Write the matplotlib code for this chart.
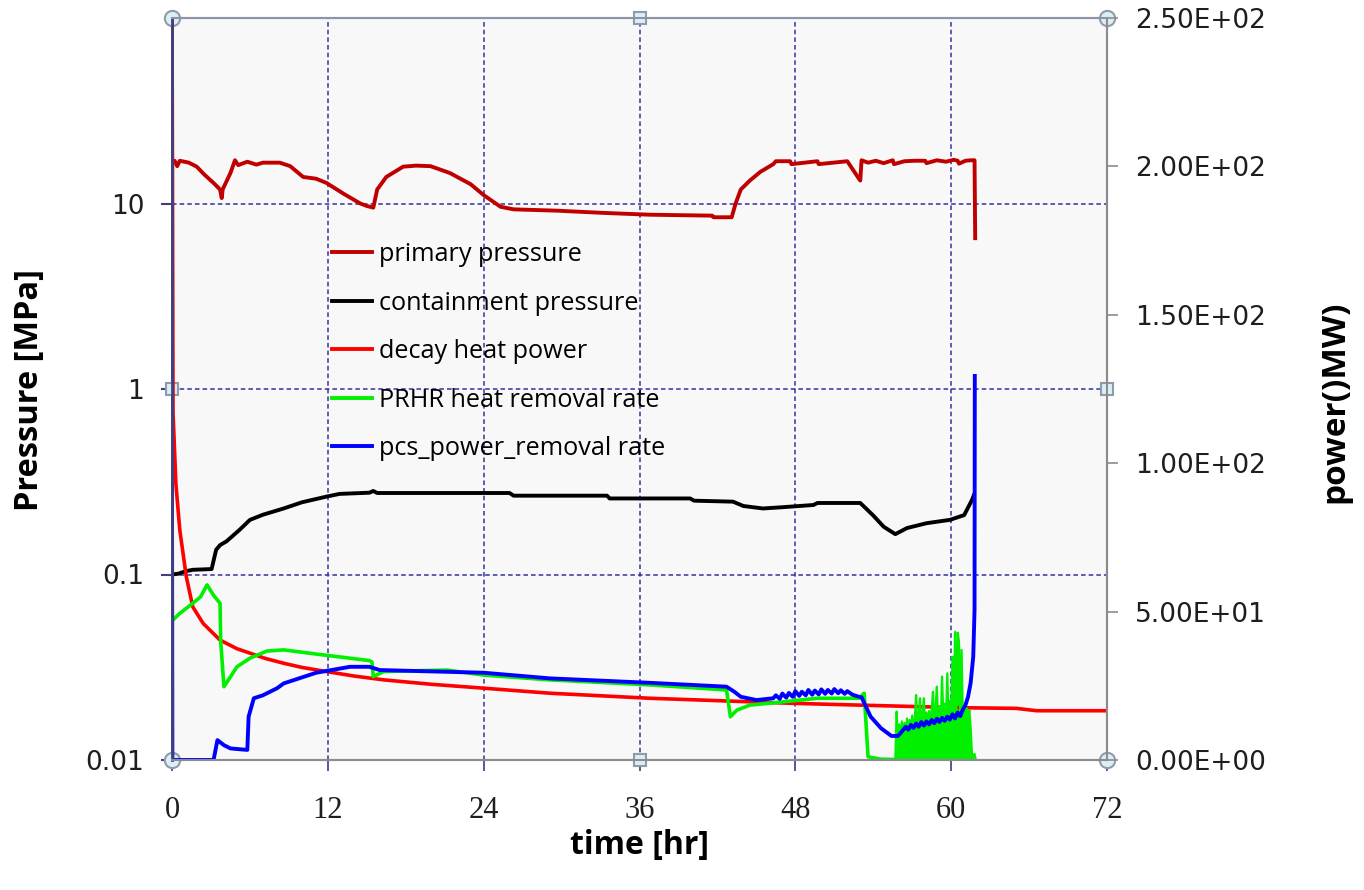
import matplotlib
matplotlib.use("Agg")
import matplotlib.pyplot as plt
from matplotlib.lines import Line2D
from matplotlib.ticker import NullLocator

# ---- data ----
# primary pressure [MPa] (left, log axis)
primary_t = [0, 0.2, 0.4, 0.6, 1.3, 1.9, 2.5, 3.2, 3.7, 3.83, 3.9, 4.5, 4.85, 5.1, 5.8,
             6.5, 7.0, 8.3, 9.1, 10.1, 11.1, 11.9, 13.2, 14.5, 15.0, 15.5, 15.8, 16.5,
             17.8, 18.8, 19.9, 21.4, 23.0, 24.0, 25.3, 26.3, 29.6, 33.2, 36.8, 41.6,
             41.7, 43.1, 43.4, 43.8, 44.5, 45.3, 46.3, 46.5, 47.6, 47.7, 49.7, 49.8,
             52.0, 52.9, 53.0, 53.1, 53.6, 54.2, 54.8, 55.5, 55.6, 56.4, 57.2, 58.0,
             58.1, 58.9, 59.6, 60.2, 60.5, 60.6, 61.1, 61.5, 61.8, 61.85]
primary_p = [16.5, 17.0, 15.9, 17.0, 16.6, 15.8, 14.3, 12.9, 11.9, 10.7, 11.9, 14.6, 17.1,
             16.1, 16.8, 16.2, 16.6, 16.6, 15.9, 13.9, 13.6, 12.9, 11.3, 10.0, 9.7, 9.5,
             11.9, 13.9, 15.8, 16.0, 15.9, 14.6, 12.7, 11.1, 9.6, 9.3, 9.15, 8.9, 8.7,
             8.6, 8.43, 8.43, 10.0, 11.9, 13.3, 14.8, 16.3, 16.9, 16.9, 16.3, 16.9,
             16.3, 16.9, 13.6, 13.3, 17.1, 16.6, 17.0, 16.5, 17.1, 16.3, 16.9, 17.0,
             17.0, 16.5, 17.1, 16.8, 17.2, 17.0, 16.4, 17.0, 17.1, 17.1, 6.5]

# containment pressure [MPa] (left, log axis)
contain_t = [0, 0.5, 1.0, 1.6, 3.05, 3.4, 3.7, 4.2, 5.2, 6.0, 7.0, 8.6, 10.0, 11.9, 12.9,
             15.2, 15.5, 15.8, 26.0, 26.3, 33.5, 33.7, 36.8, 39.9, 40.2, 43.2, 44.0,
             45.5, 46.8, 49.4, 49.7, 53.0, 54.0, 54.8, 55.7, 56.6, 58.1, 59.9, 61.0,
             61.6, 61.75]
contain_p = [0.100, 0.101, 0.104, 0.106, 0.107, 0.136, 0.144, 0.151, 0.174, 0.197, 0.210,
             0.227, 0.245, 0.263, 0.272, 0.276, 0.282, 0.275, 0.275, 0.266, 0.266, 0.257,
             0.257, 0.257, 0.250, 0.247, 0.234, 0.227, 0.230, 0.237, 0.243, 0.243, 0.208,
             0.181, 0.165, 0.178, 0.189, 0.197, 0.209, 0.252, 0.268]

# decay heat power [MW] (right axis)
decay_t = [0, 0.08, 0.3, 0.6, 1.1, 1.6, 2.4, 3.7, 5.0, 6.0, 7.2, 8.6, 10.0, 11.9, 14.0,
           16.3, 20.0, 24.0, 29.1, 36.8, 42.0, 47.8, 52.0, 57.3, 61.0, 65.0, 66.6, 72.0]
decay_w = [260, 117, 93, 77.5, 61.8, 51.6, 46.0, 40.4, 37.5, 36.0, 34.2, 32.6, 31.2, 29.8,
           28.3, 27.0, 25.5, 24.2, 22.5, 20.8, 20.0, 19.1, 18.6, 18.0, 17.6, 17.4, 16.6,
           16.6]

# PRHR heat removal rate [MW] (right axis)
prhr_t = [0, 0.02, 0.6, 1.6, 2.2, 2.7, 3.2, 3.7, 3.75, 4.0, 4.5, 5.0, 6.0, 7.3, 8.6, 11.1,
          13.7, 15.2, 15.4, 15.5, 16.3, 18.0, 21.2, 24.0, 29.1, 36.8, 42.7, 43.0, 43.5,
          44.5, 47.1, 49.7, 52.9, 53.3, 53.6, 54.5, 55.5, 55.7]
prhr_w = [0, 47.0, 49.4, 52.8, 55.0, 59.0, 55.5, 52.8, 40.0, 24.7, 28.0, 31.4, 34.3, 36.7,
          37.1, 35.7, 34.3, 33.5, 33.0, 28.1, 29.8, 30.0, 30.3, 28.6, 27.0, 25.3, 23.6,
          14.6, 16.8, 18.5, 19.6, 20.8, 20.8, 22.5, 1.1, 0.3, 0.2, 0.2]
# oscillating tail of the PRHR rate near the end of the transient
prhr_tail_t = [55.7, 55.8, 55.9, 56.0, 56.1, 56.2, 56.3, 56.4, 56.5, 56.6, 56.7, 56.8, 56.9,
               57.0, 57.1, 57.2, 57.3, 57.4, 57.5, 57.6, 57.7, 57.8, 57.9, 58.0, 58.1,
               58.2, 58.3, 58.4, 58.5, 58.6, 58.7, 58.8, 58.9, 59.0, 59.1, 59.2, 59.3,
               59.4, 59.5, 59.6, 59.7, 59.8, 59.9, 60.0, 60.1, 60.2, 60.3, 60.4, 60.5,
               60.6, 60.7, 60.8, 60.9, 61.0, 61.1, 61.2, 61.3, 61.4, 61.5, 61.6, 61.7,
               61.8, 61.9]
prhr_tail_w = [0.2, 16.3, 6.5, 12.0, 5.3, 13.0, 6.5, 12.5, 6.3, 14.0, 7.5, 13.5, 7.4, 15.0,
               8.5, 14.0, 21.9, 8.5, 15.0, 20.8, 9.6, 15.5, 20.8, 9.5, 16.0, 10.6, 16.5,
               10.5, 17.0, 23.0, 10.6, 17.5, 24.7, 11.5, 18.0, 11.7, 28.1, 12.5, 19.0,
               12.6, 29.2, 13.5, 20.0, 13.8, 34.8, 14.6, 43.2, 15.0, 42.9, 39.9, 14.8,
               37.1, 15.0, 18.0, 14.8, 17.5, 14.0, 16.8, 10.8, 2.2, 1.5, 2.0, 0.0]

# pcs power removal rate [MW] (right axis)
pcs_t = [0, 0.03, 3.2, 3.5, 4.0, 4.5, 5.8, 5.9, 6.3, 7.0, 8.1, 8.6, 11.1, 13.7, 15.2, 16.0,
         24.0, 29.1, 36.8, 42.7, 43.3, 43.8, 45.0, 46.3, 46.5, 46.8, 47.0, 47.3, 47.5,
         47.8, 48.0, 48.3, 48.5, 48.8, 49.0, 49.3, 49.5, 49.8, 50.0, 50.3, 50.5, 50.8,
         51.0, 51.3, 51.5, 51.8, 52.0, 52.4, 52.9, 53.1, 53.8, 54.6, 55.4, 55.9, 56.3,
         56.5, 56.7, 56.9, 57.1, 57.3, 57.5, 57.7, 57.9, 58.1, 58.3, 58.5, 58.7, 58.9,
         59.1, 59.3, 59.5, 59.7, 59.9, 60.1, 60.3, 60.5, 60.7, 60.9, 61.1, 61.3, 61.5,
         61.7, 61.8, 61.82]
pcs_w = [92, 0, 0, 6.7, 5.0, 3.9, 3.4, 14.6, 20.8, 21.8, 24.2, 25.8, 29.4, 31.4, 31.4,
         30.3, 29.4, 27.5, 26.0, 24.7, 23.0, 21.3, 20.2, 20.8, 21.8, 20.6, 22.4, 21.0,
         22.6, 21.3, 23.2, 21.6, 23.0, 21.8, 23.6, 22.0, 23.4, 22.1, 23.8, 22.3, 23.6,
         22.4, 23.9, 22.5, 23.5, 22.3, 23.2, 22.0, 21.3, 21.1, 14.6, 10.7, 8.1, 8.1, 10.1,
         11.2, 10.2, 11.8, 10.8, 12.3, 11.2, 12.8, 11.6, 13.0, 12.0, 13.5, 12.4, 13.9,
         12.8, 14.2, 13.2, 14.6, 13.6, 15.4, 14.0, 16.0, 14.8, 17.0, 18.5, 21.3, 26.0,
         34.8, 50.5, 129.4]

x_ticks = [0, 12, 24, 36, 48, 60, 72]
left_ticks = [0.01, 0.1, 1, 10]
left_labels = ["0.01", "0.1", "1", "10"]
right_ticks = [0, 50, 100, 150, 200, 250]
right_labels = ["0.00E+00", "5.00E+01", "1.00E+02", "1.50E+02", "2.00E+02", "2.50E+02"]

W, H = 1364, 890
fig = plt.figure(figsize=(W / 100, H / 100), dpi=100)
fig.patch.set_facecolor("white")

x0, x1, y0, y1 = 172, 1107, 18, 760
ax = fig.add_axes([x0 / W, 1 - y1 / H, (x1 - x0) / W, (y1 - y0) / H])
ax.set_facecolor("#F8F8F8")
ax.set_yscale("log")
ax.set_xlim(0, 72)
ax.set_ylim(0.01, 100)
ax.set_xticks(x_ticks)
ax.set_yticks(left_ticks)
ax.set_yticklabels(left_labels)
ax.yaxis.set_minor_locator(NullLocator())

grid_col = "#34349C"
ax.grid(True, which="major", color=grid_col, linestyle=(0, (3, 2)), linewidth=1.1)
ax.set_axisbelow(True)

ax.plot(primary_t, primary_p, color="#C00000", lw=2.8)
ax.plot(contain_t, contain_p, color="black", lw=2.8)

ax2 = ax.twinx()
ax2.set_ylim(0, 250)
ax2.set_yticks(right_ticks)
ax2.set_yticklabels(right_labels)
ax2.plot(decay_t, decay_w, color="#FF0000", lw=2.6)
ax2.plot(prhr_t, prhr_w, color="#00F000", lw=2.6)
ax2.fill_between(prhr_tail_t, prhr_tail_w, 0, color="#00F000", lw=0)
ax2.plot(prhr_tail_t, prhr_tail_w, color="#00F000", lw=1.6)
ax2.plot(pcs_t, pcs_w, color="#0000FF", lw=2.8)

# spines
for a in (ax, ax2):
    a.spines["top"].set_color("#8A96A8")
    a.spines["top"].set_linewidth(1.5)
    a.spines["bottom"].set_color("#8C8C8C")
    a.spines["bottom"].set_linewidth(1.5)
    a.spines["right"].set_color("#8C8C8C")
    a.spines["right"].set_linewidth(1.5)
    a.spines["left"].set_color("#40407F")
    a.spines["left"].set_linewidth(2.0)

ax.tick_params(axis="y", direction="out", length=8, width=1.5, color="#40407F",
               pad=12, labelsize=19, labelcolor="#1E1E1E")
ax.tick_params(axis="x", direction="out", length=8, width=1.2, color="#3A3A8A",
               pad=18, labelsize=22, labelcolor="#1E1E1E")
ax2.tick_params(axis="y", direction="out", length=8, width=1.2, color="#8C8C8C",
                pad=12, labelsize=19, labelcolor="#1E1E1E")
for lbl in ax.get_xticklabels():
    lbl.set_fontfamily(["Liberation Serif", "DejaVu Serif"])

# excel selection handles around the plot area
hfc, hec = "#DDEFF6", "#8E9BAA"
for hx, hy in [(0, 0), (1, 0), (0, 1), (1, 1)]:
    ax.plot(hx, hy, "o", ms=11, mfc=hfc, mec=hec, mew=1.5, transform=ax.transAxes,
            clip_on=False, zorder=10)
for hx, hy in [(0.5, 0), (0.5, 1), (0, 0.5), (1, 0.5)]:
    ax.plot(hx, hy, "s", ms=9, mfc=hfc, mec=hec, mew=1.5, transform=ax.transAxes,
            clip_on=False, zorder=10)

# axis titles
lab_font = ["Open Sans", "DejaVu Sans"]
fig.text(30 / W, 1 - 390 / H, "Pressure [MPa]", rotation=90, ha="center", va="center",
         fontsize=23.5, fontweight="bold", family=lab_font)
fig.text(1335 / W, 1 - 402 / H, "power()MW)", rotation=90, ha="center", va="center",
         fontsize=24, fontweight="bold", family=lab_font)
fig.text(640 / W, 1 - 846 / H, "time [hr]", ha="center", va="center",
         fontsize=23, fontweight="bold", family=lab_font)

# legend
names = ["primary pressure", "containment pressure", "decay heat power",
         "PRHR heat removal rate", "pcs_power_removal rate"]
colors = ["#C00000", "black", "#FF0000", "#00F000", "#0000FF"]
handles = [Line2D([], [], color=c, lw=2.8) for c in colors]
leg = ax2.legend(handles, names, loc="upper left",
                 bbox_to_anchor=(332 / W, 1 - 242 / H), bbox_transform=fig.transFigure,
                 frameon=False, borderpad=0, borderaxespad=0, handlelength=1.6,
                 handletextpad=0.25, labelspacing=0.93,
                 prop={"family": lab_font, "size": 18.2})

fig.savefig("out.png", dpi=100, facecolor="white")
